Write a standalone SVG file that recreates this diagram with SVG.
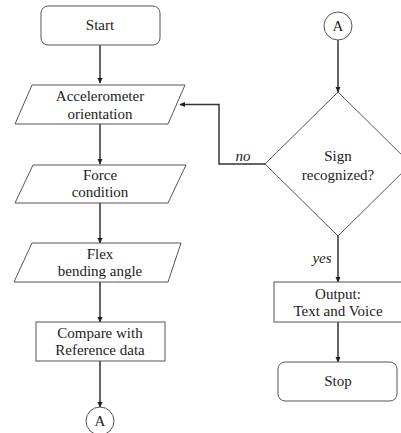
<svg xmlns="http://www.w3.org/2000/svg" width="401" height="433" viewBox="0 0 401 433">
<defs>
<style>
.box{fill:#fff;stroke:#555;stroke-width:1}
.t{font-family:"Liberation Serif","Times New Roman",serif;font-size:15px;fill:#222;text-anchor:middle}
.i{font-style:italic}
.c{fill:none;stroke:#333;stroke-width:1.5}
</style>
<marker id="ah" viewBox="0 0 8 8" refX="7" refY="4" markerWidth="6" markerHeight="6" markerUnits="userSpaceOnUse" orient="auto">
<path d="M0,0.5 L8,4 L0,7.5 Z" fill="#222"/>
</marker>
</defs>
<rect width="401" height="433" fill="#fff"/>
<g id="connectors">
<path class="c" d="M100,45 V83" marker-end="url(#ah)"/>
<path class="c" d="M100,124 V164" marker-end="url(#ah)"/>
<path class="c" d="M100,203 V243" marker-end="url(#ah)"/>
<path class="c" d="M100,282 V322" marker-end="url(#ah)"/>
<path class="c" d="M100,361 V407" marker-end="url(#ah)"/>
<path class="c" d="M338,40 V92" marker-end="url(#ah)"/>
<path class="c" d="M265,164 H219 V104.5 H180" marker-end="url(#ah)"/>
<path class="c" d="M338,236 V282" marker-end="url(#ah)"/>
<path class="c" d="M338,322 V362" marker-end="url(#ah)"/>
<text class="t i" x="243" y="161">no</text>
<text class="t i" x="322" y="263">yes</text>
</g>
<g id="start">
<rect class="box" x="41" y="6" width="119" height="39" rx="7"/>
<text class="t" x="100" y="30">Start</text>
</g>
<g id="accel">
<polygon class="box" points="32,85 185,85 168,124 15,124"/>
<text class="t" x="100" y="101">Accelerometer</text>
<text class="t" x="100" y="119">orientation</text>
</g>
<g id="force">
<polygon class="box" points="33,165 186,165 168,203 15,203"/>
<text class="t" x="100" y="180">Force</text>
<text class="t" x="100" y="197">condition</text>
</g>
<g id="flex">
<polygon class="box" points="32,243 181,243 168,282 14,282"/>
<text class="t" x="100" y="259">Flex</text>
<text class="t" x="100" y="276">bending angle</text>
</g>
<g id="compare">
<rect class="box" x="36" y="322" width="129" height="39"/>
<text class="t" x="100" y="338">Compare with</text>
<text class="t" x="100" y="355">Reference data</text>
</g>
<g id="connA1">
<circle class="box" cx="100" cy="421" r="14"/>
<text class="t" x="100" y="426">A</text>
</g>
<g id="connA2">
<circle class="box" cx="338" cy="26" r="14"/>
<text class="t" x="338" y="31">A</text>
</g>
<g id="decision">
<polygon class="box" points="338,92 411,164 338,236 265,164"/>
<text class="t" x="338" y="161">Sign</text>
<text class="t" x="338" y="180">recognized?</text>
</g>
<g id="output">
<rect class="box" x="274" y="282" width="128" height="40"/>
<text class="t" x="338" y="299">Output:</text>
<text class="t" x="338" y="316">Text and Voice</text>
</g>
<g id="stop">
<rect class="box" x="278" y="362" width="119" height="39" rx="7"/>
<text class="t" x="338" y="386">Stop</text>
</g>
</svg>
